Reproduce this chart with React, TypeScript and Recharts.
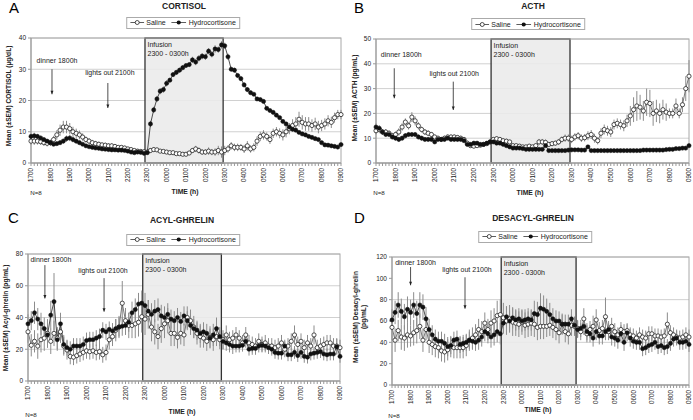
import React from "react";
import { LineChart, Line, XAxis, YAxis, CartesianGrid, ErrorBar, ReferenceArea, ReferenceLine } from "recharts";

// sampling every 10 min, 1700 -> 0900 (97 points)
const hourLabels = ["1700", "1800", "1900", "2000", "2100", "2200", "2300", "0000", "0100", "0200", "0300", "0400", "0500", "0600", "0700", "0800", "0900"];

// A - cortisol (µg/dL)
const aSal = [
  7, 7, 7, 6.8, 6.5, 6.3, 6.5, 7.5, 9, 10.5, 11.5, 11.5,
  11, 10, 9.5, 9, 8.3, 7.5, 7, 6.5, 6.2, 6, 5.8, 5.7,
  5.5, 5.5, 5.3, 5, 5, 4.8, 4.5, 4.3, 4, 3.8, 3.7, 3.6,
  3.5, 4, 4.3, 4.2, 3.8, 3.7, 3.5, 3.3, 3.3, 3, 3, 2.8,
  2.8, 3.2, 4, 4.5, 4, 3.5, 3.5, 3.8, 3.5, 3.5, 4, 3.5,
  4, 4.5, 5.5, 5, 5, 5, 4.5, 5.5, 4.5, 5, 7, 8.5,
  9, 8.5, 7.5, 9.5, 10, 9.5, 9, 10, 11, 12, 12.5, 14,
  13, 12.5, 12.5, 12, 12.5, 11.5, 12, 12.5, 13.5, 13, 14.5, 15.5, 15.5,
];
const aSalE = [
  1.2, 1.2, 1.1, 1, 1, 1, 1, 1.2, 1.5, 1.8, 2, 2,
  1.8, 1.6, 1.5, 1.4, 1.2, 1, 1, 0.9, 0.9, 0.8, 0.8, 0.8,
  0.8, 0.8, 0.8, 0.7, 0.7, 0.7, 0.7, 0.6, 0.6, 0.6, 0.6, 0.6,
  0.7, 0.8, 0.8, 0.7, 0.6, 0.6, 0.6, 0.6, 0.6, 0.5, 0.5, 0.5,
  0.5, 0.6, 0.8, 1, 1, 0.9, 0.9, 1.2, 1, 1.2, 1.5, 1.8,
  1.5, 1.2, 1.2, 1.2, 1.2, 1.1, 1.3, 1.5, 1.2, 1.3, 1.5, 1.5,
  1.5, 1.3, 1.4, 1.5, 1.5, 1.6, 1.8, 1.8, 1.8, 2, 2.2, 2.4,
  2.3, 2.2, 2.2, 2, 2, 2, 1.8, 1.8, 1.8, 1.8, 1.6, 1.5, 1.5,
];
const aHyd = [
  8.5, 8.7, 8.5, 8, 7.5, 7, 6.5, 6, 6.2, 6.5, 7, 7.8,
  8, 7.5, 7, 6.5, 6, 5.5, 5.2, 5, 4.8, 4.7, 4.5, 4.4,
  4.3, 4.2, 4.2, 4.1, 4.1, 4, 3.8, 3.5, 3.3, 3.5, 3.4, 3.1,
  3.3, 12.5, 17, 20.5, 23, 23.5, 25.5, 26.5, 28.3, 29, 29.7, 30.5,
  31.2, 31.5, 33, 32.3, 33.5, 34.2, 34, 35.8, 34.8, 36.5, 36.3, 37.8,
  37.5, 34, 30, 29.7, 28, 27, 25, 23.5, 22.5, 22, 20.5, 20.3,
  19.7, 17.5, 16.8, 16.2, 15.3, 14.5, 13.3, 12.5, 11.5, 10.8, 10.5, 9.8,
  9.3, 9, 8.5, 8.2, 7.8, 7.5, 6.5, 5.8, 5.7, 5.5, 5.3, 5.1, 5.9,
];
const aHydE = [
  1, 1, 0.8, 0.8, 0.7, 0.7, 0.6, 0.6, 0.6, 0.7, 0.8, 1,
  1, 0.9, 0.8, 0.6, 0.5, 0.5, 0.5, 0.4, 0.4, 0.4, 0.4, 0.4,
  0.4, 0.4, 0.4, 0.4, 0.4, 0.4, 0.4, 0.4, 0.4, 0.4, 0.4, 0.4,
  0.5, 1, 1, 1, 1, 1, 1, 0.8, 0.8, 0.8, 0.8, 0.8,
  0.8, 0.8, 1, 1, 1, 1, 1, 1, 1, 1.2, 1, 1.2,
  1, 1, 0.8, 0.8, 0.8, 0.8, 0.8, 0.8, 0.6, 0.6, 0.6, 0.6,
  0.6, 0.6, 0.6, 0.6, 0.5, 0.5, 0.5, 0.5, 0.5, 0.5, 0.5, 0.5,
  0.5, 0.5, 0.5, 0.5, 0.5, 0.5, 0.5, 0.5, 0.5, 0.5, 0.5, 0.5, 0.5,
];

// B - ACTH (pg/mL)
const bSal = [
  13, 13.5, 12.5, 12.5, 12, 11, 11.5, 12.5, 14.5, 16.5, 15, 18.5,
  17, 15, 13.5, 12.5, 12, 11.5, 10.5, 10, 9.5, 10, 10.5, 10.5,
  10.5, 10.3, 10, 9.5, 8, 7, 6.8, 7, 7.2, 7.5, 7.8, 8.5,
  9.5, 9.8, 9.5, 9, 8.8, 8.5, 7, 7, 6.8, 6.5, 6.5, 6.8,
  6.5, 7, 8.5, 8.5, 8.3, 7.5, 7.8, 8, 8.5, 9.5, 10, 10,
  9.5, 10.5, 11, 10, 10.2, 11, 11.5, 10, 9, 12, 13.5, 13,
  12.5, 15.5, 16, 15.5, 15, 17, 19, 21.5, 23, 22.5, 21, 24.5,
  24, 20, 21, 20, 21.5, 20.5, 20, 20, 23, 20, 23.5, 30, 35,
];
const bSalE = [
  1.5, 1.5, 1.2, 1.2, 1.2, 1.2, 1.2, 1.5, 1.5, 1.5, 1.5, 2,
  1.8, 1.5, 1.2, 1.2, 1.2, 1, 1, 1, 1, 1, 1, 1,
  1, 1, 1, 1, 1, 0.8, 0.8, 0.8, 0.8, 0.8, 0.8, 0.8,
  1, 1, 1, 1, 1, 0.8, 0.6, 0.6, 0.6, 0.6, 0.6, 0.6,
  0.6, 0.8, 1.2, 1.2, 1.2, 1, 1, 1, 1.2, 1.2, 1.5, 1.5,
  1.5, 1.5, 1.5, 1.5, 1.5, 1.8, 1.8, 1.8, 1.5, 2, 2, 2,
  2, 2, 2, 2, 2.2, 2.5, 4, 5, 6, 5, 4, 5.5,
  5.5, 5, 4.5, 4, 4, 3.5, 2, 2, 3, 2, 3, 5, 6.5,
];
const bHyd = [
  14.5, 14, 12.5, 11.5, 11.5, 10.5, 10, 9.5, 10, 11, 11.5, 11.5,
  11.5, 10.5, 10, 9.5, 9.5, 9.5, 8.5, 9.5, 9.5, 9.5, 10, 9.5,
  9.5, 9.5, 9.5, 9, 7.5, 7.5, 8, 8, 7.5, 7.5, 8, 8.5,
  8.5, 8, 8, 7.5, 7, 6.5, 6, 6, 6, 5.8, 5.5, 5.5,
  5.5, 5.5, 5.5, 5.5, 7, 5, 5, 5, 5, 5, 5, 5.2,
  5.3, 5.3, 5.3, 5.2, 5.2, 6.5, 5, 5, 5, 5, 5, 5,
  5, 5, 5, 5, 5, 5, 5, 5, 5, 5, 5.2, 5.2,
  5.2, 5.2, 5.2, 5.2, 5.2, 5.4, 5.5, 5.5, 5.8, 5.8, 6, 6, 7,
];
const bHydE = [
  1.5, 1.2, 1, 1, 1, 1, 1, 1, 1, 1, 1, 1,
  1, 1, 1, 0.8, 0.8, 0.8, 0.8, 0.8, 0.8, 0.8, 0.8, 0.8,
  0.8, 0.8, 0.8, 0.8, 0.8, 0.8, 0.6, 0.6, 0.6, 0.6, 0.8, 0.8,
  0.8, 0.8, 0.6, 0.6, 0.5, 0.5, 0.5, 0.5, 0.5, 0.5, 0.5, 0.5,
  0.5, 0.5, 0.5, 0.5, 0.5, 0.5, 0.5, 0.5, 0.5, 0.5, 0.5, 0.5,
  0.5, 0.5, 0.5, 0.5, 0.5, 0.5, 0.5, 0.5, 0.5, 0.5, 0.5, 0.5,
  0.5, 0.5, 0.5, 0.5, 0.5, 0.5, 0.5, 0.5, 0.5, 0.5, 0.5, 0.5,
  0.5, 0.5, 0.5, 0.5, 0.5, 0.5, 0.5, 0.5, 0.5, 0.5, 0.5, 0.5, 0.5,
];

// C - acyl-ghrelin (pg/mL)
const cSal = [
  31, 22.5, 25, 22, 26, 27, 30, 25, 30, 27, 31, 22,
  19.5, 15.5, 15, 16, 17, 18, 19, 18.5, 19, 18, 18.5, 16.5,
  18, 26, 28, 32, 34, 49, 38, 35, 35, 36, 37, 40.5,
  39, 42, 34, 31, 28, 33, 36, 38, 30, 30, 27.5, 30,
  29, 40, 38, 34, 30, 28, 27, 25, 27.5, 26, 28, 26,
  26, 29, 26, 27, 29, 27, 24, 29, 24, 23, 22, 25,
  23, 24, 22, 22, 21, 22, 24, 20, 22, 25, 29, 23,
  25, 21, 24, 22, 29, 21, 22, 23, 24, 24, 22, 22, 21,
];
const cSalE = [
  7, 7, 7, 8, 8, 8, 9, 8, 8, 7, 7, 6,
  6, 5, 5, 5, 5, 5, 5, 5, 5, 5, 5, 5,
  5, 6, 6, 7, 7, 14, 8, 8, 8, 9, 9, 10,
  10, 9, 9, 8, 8, 9, 9, 8, 8, 8, 7, 7,
  7, 7, 7, 7, 7, 7, 6, 6, 7, 7, 6, 6,
  6, 6, 5, 5, 5, 5, 5, 5, 5, 5, 5, 5,
  5, 5, 5, 5, 5, 5, 5, 5, 5, 5, 6, 5,
  5, 5, 5, 5, 6, 5, 5, 5, 5, 5, 5, 5, 5,
];
const cHyd = [
  36, 38, 43, 39, 36, 33, 29, 41.5, 50, 26, 36, 23,
  21, 20, 22, 22, 22, 23, 25.5, 26, 26, 27, 28, 32,
  31, 32.5, 31.5, 33, 34, 34.5, 35, 37, 43, 45, 48.5, 49,
  47.5, 44, 42, 44, 45, 41, 40, 42, 39, 38, 40, 37.5,
  41, 38, 35, 33, 32, 30, 31, 30, 27, 29, 33, 28,
  25, 24, 23, 22, 22, 22, 22.5, 25, 20, 20.5, 20.5, 22,
  22.5, 22, 21, 20, 18, 17.5, 17.5, 22, 16.5, 16.5, 18, 16,
  18, 15.5, 15, 17, 17.5, 18, 18.5, 17, 16.5, 17, 17, 21.5, 15.5,
];
const cHydE = [
  6, 6, 7, 7, 7, 7, 8, 9, 18, 7, 7, 6,
  5, 5, 5, 5, 5, 5, 5, 5, 5, 5, 5, 5,
  5, 5, 5, 6, 6, 6, 6, 6, 7, 7, 7, 8,
  8, 7, 7, 7, 7, 7, 7, 7, 6, 6, 6, 6,
  6, 6, 6, 6, 6, 6, 6, 6, 6, 7, 7, 6,
  5, 5, 5, 5, 4, 4, 4, 4, 4, 4, 4, 4,
  4, 4, 4, 4, 4, 4, 4, 4, 4, 4, 4, 4,
  4, 4, 4, 4, 4, 4, 4, 4, 4, 4, 4, 5, 4,
];

// D - desacyl-ghrelin (pg/mL)
const dSal = [
  54, 42, 51, 45, 44, 47, 46, 49, 51, 55, 42, 52,
  40, 38, 36, 35, 32, 31, 33, 36, 35, 35, 35, 35,
  37, 42, 44, 47, 52, 50, 58, 52, 58, 60, 65, 66,
  63, 60, 62, 59, 58, 57, 59, 56, 57, 58, 57, 54,
  55, 55, 55, 56, 54, 52, 49, 57, 50, 48, 56, 55,
  53, 50, 62, 48, 52, 55, 61, 51, 53, 64, 50, 55,
  50, 47, 52, 50, 51, 47, 46, 44, 47, 45, 44, 48,
  48, 46, 46, 45, 46, 57, 49, 47, 45, 44, 45, 47, 45,
];
const dSalE = [
  12, 11, 10, 12, 12, 12, 10, 12, 12, 12, 11, 10,
  10, 10, 10, 10, 10, 10, 10, 10, 10, 10, 10, 10,
  10, 10, 10, 10, 10, 10, 10, 10, 12, 12, 14, 14,
  14, 13, 13, 13, 12, 12, 12, 12, 12, 12, 12, 12,
  12, 12, 10, 10, 10, 10, 10, 10, 10, 10, 10, 9,
  8, 8, 10, 8, 8, 10, 10, 8, 8, 18, 8, 8,
  8, 7, 7, 7, 7, 7, 7, 7, 7, 7, 7, 7,
  7, 7, 7, 7, 7, 11, 7, 7, 7, 7, 7, 7, 7,
];
const dHyd = [
  61, 68, 75, 69, 64, 71, 68, 75, 67, 75, 73, 62,
  52, 47, 43, 41, 41, 39, 36, 37, 42, 43, 38, 39,
  40, 42, 41, 40, 42, 45, 50, 48, 45, 47, 50, 48,
  58, 64, 60, 63, 61, 62, 60, 61, 62, 61, 67, 66,
  72, 71, 69, 66, 62, 60, 60, 57, 57, 57, 62, 56,
  52, 53, 55, 50, 48, 44, 50, 46, 46, 50, 52, 45,
  44, 42, 48, 40, 49, 44, 41, 40, 40, 34, 35, 37,
  38, 40, 36, 37, 35, 36, 39, 43, 44, 40, 40, 41, 38,
];
const dHydE = [
  10, 11, 12, 12, 12, 12, 12, 12, 12, 12, 12, 11,
  10, 9, 9, 9, 9, 9, 9, 8, 8, 8, 8, 8,
  8, 8, 8, 8, 9, 9, 9, 9, 10, 10, 10, 10,
  10, 10, 10, 10, 10, 10, 10, 10, 10, 10, 12, 12,
  14, 13, 12, 11, 10, 10, 9, 9, 9, 9, 9, 8,
  8, 8, 8, 8, 8, 8, 8, 8, 8, 8, 8, 8,
  8, 8, 8, 8, 8, 8, 7, 7, 7, 7, 7, 7,
  7, 7, 7, 7, 7, 7, 7, 7, 7, 7, 7, 7, 7,
];

const FONT = '"Liberation Sans", Arial, sans-serif';

const rowsOf = (sal: number[], salE: number[], hyd: number[], hydE: number[]) =>
  sal.map((v, i) => ({ i, sal: v, salE: salE[i], hyd: hyd[i], hydE: hydE[i] }));

function TimeTick(props: any) {
  const { x, y, payload } = props;
  const v = payload.value;
  if (v % 6 !== 0) return null;
  return (
    <g transform={`translate(${x},${y}) rotate(-90)`}>
      <text x={0} y={0} dy="0.35em" textAnchor="end" fontSize={6.3} fill="#222">
        {hourLabels[v / 6]}
      </text>
    </g>
  );
}

const infusionBox = (p: any) => (
  <g>
    <rect x={p.x} y={p.y} width={p.width} height={p.height} fill="#ebebeb" fillOpacity={0.88} stroke="#333" strokeWidth={1.3} />
    <text x={p.x + 2.5} y={p.y + 8.5} fontSize={7} fill="#222" stroke="none">Infusion</text>
    <text x={p.x + 2.5} y={p.y + 17.5} fontSize={7} fill="#222" stroke="none">2300 - 0300h</text>
  </g>
);

const frameBox = (p: any) => (
  <rect x={p.x} y={p.y} width={p.width} height={p.height} fill="none" stroke="#a8a8a8" strokeWidth={1} />
);

const arrowShape = (text: string, dx: number, dy: number) => (p: any) => (
  <g>
    <line x1={p.x1} y1={p.y1} x2={p.x2} y2={p.y2} stroke="#222" strokeWidth={0.8} />
    <polygon points={`${p.x2 - 1.5},${p.y2 - 3.5} ${p.x2 + 1.5},${p.y2 - 3.5} ${p.x2},${p.y2}`} fill="#222" />
    <text x={p.x1 + dx} y={p.y1 + dy} textAnchor="middle" fontSize={7} fill="#222">{text}</text>
  </g>
);

type Arrow = { x: number; from: number; to: number; text: string; dx: number; dy: number };

function Panel(props: {
  left: number; top: number; width: number; height: number;
  plotLeft: number; plotTop: number; plotRight: number; axisH: number;
  yMax: number; yTicks: number[]; rows: any[]; arrows: Arrow[];
}) {
  const { left, top, width, height, plotLeft, plotTop, plotRight, axisH, yMax, yTicks, rows, arrows } = props;
  return (
    <div style={{ position: "absolute", left, top }}>
      <LineChart width={width} height={height} data={rows} margin={{ top: plotTop, right: plotRight, bottom: 0, left: 0 }}>
        <CartesianGrid vertical={false} stroke="#d0d0d0" />
        <XAxis
          type="number"
          dataKey="i"
          domain={[0, 96]}
          ticks={rows.map((r) => r.i)}
          interval={0}
          height={axisH}
          tick={<TimeTick />}
          tickSize={3}
          tickMargin={2}
          tickLine={{ stroke: "#999" }}
          axisLine={{ stroke: "#999" }}
        />
        <YAxis
          type="number"
          domain={[0, yMax]}
          ticks={yTicks}
          allowDataOverflow
          width={plotLeft}
          tick={{ fontSize: 6.5, fill: "#222" }}
          tickSize={3}
          tickMargin={2}
          tickLine={{ stroke: "#999" }}
          axisLine={{ stroke: "#999" }}
        />
        <ReferenceArea x1={35.3} x2={59.5} y1={0} y2={yMax} shape={infusionBox} ifOverflow="visible" />
        <ReferenceArea x1={0} x2={96} y1={0} y2={yMax} shape={frameBox} ifOverflow="visible" />
        {arrows.map((a, k) => (
          <ReferenceLine
            key={k}
            segment={[{ x: a.x, y: a.from }, { x: a.x, y: a.to }]}
            shape={arrowShape(a.text, a.dx, a.dy)}
            ifOverflow="visible"
          />
        ))}
        <Line
          dataKey="sal"
          stroke="#555"
          strokeWidth={0.8}
          dot={{ r: 2.1, fill: "#fff", stroke: "#222", strokeWidth: 0.8 }}
          isAnimationActive={false}
        >
          <ErrorBar dataKey="salE" width={0} stroke="#8c8c8c" strokeWidth={1} direction="y" />
        </Line>
        <Line
          dataKey="hyd"
          stroke="#222"
          strokeWidth={0.8}
          dot={{ r: 2.1, fill: "#111", stroke: "#111", strokeWidth: 0.5 }}
          isAnimationActive={false}
        >
          <ErrorBar dataKey="hydE" width={0} stroke="#8c8c8c" strokeWidth={1} direction="y" />
        </Line>
      </LineChart>
    </div>
  );
}

function Txt(p: { cx: number; cy: number; size: number; bold?: boolean; rotate?: boolean; children: React.ReactNode }) {
  return (
    <div
      style={{
        position: "absolute",
        left: p.cx,
        top: p.cy,
        fontSize: p.size,
        fontWeight: p.bold ? "bold" : "normal",
        lineHeight: 1.2,
        whiteSpace: "nowrap",
        textAlign: "center",
        color: "#222",
        transform: `translate(-50%,-50%)${p.rotate ? " rotate(-90deg)" : ""}`,
      }}
    >
      {p.children}
    </div>
  );
}

function LegendBox({ cx, cy }: { cx: number; cy: number }) {
  return (
    <div
      style={{
        position: "absolute",
        left: cx,
        top: cy,
        transform: "translate(-50%,-50%)",
        border: "1px solid #aaa",
        background: "#fff",
        height: 10,
        display: "flex",
        alignItems: "center",
        padding: "0 3px",
        fontSize: 7,
        lineHeight: 1,
        whiteSpace: "nowrap",
        color: "#222",
      }}
    >
      <svg width={14} height={7}>
        <line x1={0} y1={3.5} x2={14} y2={3.5} stroke="#333" strokeWidth={0.8} />
        <circle cx={7} cy={3.5} r={2} fill="#fff" stroke="#222" strokeWidth={0.8} />
      </svg>
      <span style={{ marginLeft: 2, marginRight: 6 }}>Saline</span>
      <svg width={15} height={7}>
        <line x1={0} y1={3.5} x2={15} y2={3.5} stroke="#333" strokeWidth={0.8} />
        <circle cx={7.5} cy={3.5} r={2.1} fill="#111" />
      </svg>
      <span style={{ marginLeft: 2 }}>Hydrocortisone</span>
    </div>
  );
}

export default function App() {
  return (
    <div style={{ position: "absolute", left: 0, top: 0, width: 693, height: 420, background: "#fff", fontFamily: FONT, overflow: "hidden" }}>
      <Panel
        left={0} top={0} width={345} height={205}
        plotLeft={31} plotTop={38} plotRight={4} axisH={42}
        yMax={40} yTicks={[0, 10, 20, 30, 40]}
        rows={rowsOf(aSal, aSalE, aHyd, aHydE)}
        arrows={[
          { x: 6.5, from: 30, to: 22, text: "dinner 1800h", dx: 5, dy: -6 },
          { x: 23.8, from: 25.6, to: 17.6, text: "lights out 2100h", dx: 2, dy: -8 },
        ]}
      />
      <Panel
        left={345} top={0} width={348} height={205}
        plotLeft={31} plotTop={39} plotRight={4} axisH={42}
        yMax={50} yTicks={[0, 10, 20, 30, 40, 50]}
        rows={rowsOf(bSal, bSalE, bHyd, bHydE)}
        arrows={[
          { x: 5.6, from: 38.2, to: 26.1, text: "dinner 1800h", dx: 7, dy: -11 },
          { x: 23.7, from: 32.8, to: 21.4, text: "lights out 2100h", dx: 1, dy: -6 },
        ]}
      />
      <Panel
        left={0} top={205} width={345} height={215}
        plotLeft={28} plotTop={49} plotRight={5} axisH={39}
        yMax={80} yTicks={[0, 20, 40, 60, 80]}
        rows={rowsOf(cSal, cSalE, cHyd, cHydE)}
        arrows={[
          { x: 5.2, from: 73, to: 52, text: "dinner 1800h", dx: 6, dy: -3 },
          { x: 23.4, from: 64.8, to: 43.7, text: "lights out 2100h", dx: -1, dy: -5.5 },
        ]}
      />
      <Panel
        left={345} top={205} width={348} height={215}
        plotLeft={47} plotTop={52} plotRight={4} axisH={35}
        yMax={120} yTicks={[0, 20, 40, 60, 80, 100, 120]}
        rows={rowsOf(dSal, dSalE, dHyd, dHydE)}
        arrows={[
          { x: 6, from: 110.6, to: 93.5, text: "dinner 1800h", dx: 5, dy: -2.5 },
          { x: 23.6, from: 101, to: 71.6, text: "lights out 2100h", dx: 2, dy: -5 },
        ]}
      />

      {/* A */}
      <div style={{ position: "absolute", left: 9, top: 0, fontSize: 15, lineHeight: 1 }}>A</div>
      <Txt cx={184} cy={6} size={8.5} bold>CORTISOL</Txt>
      <LegendBox cx={183} cy={22.5} />
      <Txt cx={9} cy={96} size={6.6} bold rotate>Mean (±SEM) CORTISOL (µg/dL)</Txt>
      <Txt cx={185} cy={192} size={6.8} bold>TIME (h)</Txt>
      <Txt cx={36} cy={193} size={6.2}>N=8</Txt>

      {/* B */}
      <div style={{ position: "absolute", left: 354, top: 0, fontSize: 15, lineHeight: 1 }}>B</div>
      <Txt cx={533} cy={6} size={8.5} bold>ACTH</Txt>
      <LegendBox cx={528} cy={24} />
      <Txt cx={355} cy={98} size={6.6} bold rotate>Mean (±SEM) ACTH (pg/mL)</Txt>
      <Txt cx={530} cy={193} size={6.8} bold>TIME (h)</Txt>
      <Txt cx={379} cy={193} size={6.2}>N=8</Txt>

      {/* C */}
      <div style={{ position: "absolute", left: 8, top: 210, fontSize: 15, lineHeight: 1 }}>C</div>
      <Txt cx={182} cy={220} size={8.5} bold>ACYL-GHRELIN</Txt>
      <LegendBox cx={183} cy={239.5} />
      <Txt cx={6} cy={318} size={6.6} bold rotate>Mean (±SEM) Acyl-ghrelin (pg/mL)</Txt>
      <Txt cx={182} cy={412} size={6.8} bold>TIME (h)</Txt>
      <Txt cx={31} cy={415} size={6.2}>N=8</Txt>

      {/* D */}
      <div style={{ position: "absolute", left: 354, top: 210, fontSize: 15, lineHeight: 1 }}>D</div>
      <Txt cx={533} cy={218} size={8.5} bold>DESACYL-GHRELIN</Txt>
      <LegendBox cx={535} cy={236.5} />
      <Txt cx={360} cy={317} size={6.6} bold rotate>
        Mean (±SEM) Desacyl-ghrelin
        <br />
        (pg/mL)
      </Txt>
      <Txt cx={538} cy={410} size={6.8} bold>TIME (h)</Txt>
      <Txt cx={394} cy={416} size={6.2}>N=8</Txt>
    </div>
  );
}
